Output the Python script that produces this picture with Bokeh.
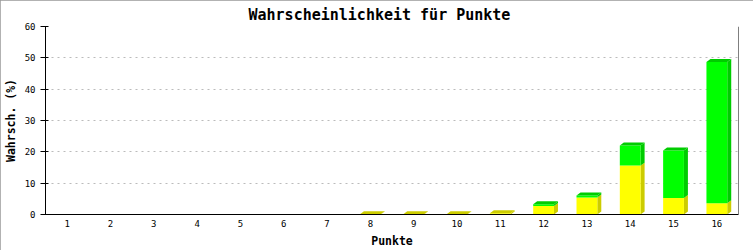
from bokeh.plotting import figure
from bokeh.models import FixedTicker, Span, InlineStyleSheet
from bokeh.embed import file_html
from bokeh.resources import INLINE

# ---- data ----
titel = "Wahrscheinlichkeit für Punkte"
punkte = [str(i) for i in range(1, 17)]
gelb = [0, 0, 0, 0, 0, 0, 0, 0.1, 0.1, 0.1, 0.4, 2.7, 5.4, 15.6, 5.3, 3.6]
gruen = [0, 0, 0, 0, 0, 0, 0, 0, 0, 0, 0, 0.6, 0.7, 6.4, 15.1, 45.1]
y_ticks = [0, 10, 20, 30, 40, 50, 60]

W, H = 753, 250
L, R, T, B = 43, 15, 25, 36
x0, x1 = 0.5, len(punkte) + 0.5
y0, y1 = 0, 60

p = figure(width=W, height=H, output_backend="svg", toolbar_location=None,
           x_range=(x0, x1), y_range=(y0, y1),
           min_border_left=L, min_border_right=R, min_border_top=T, min_border_bottom=B,
           title=titel)
p.stylesheets = [InlineStyleSheet(css=":host { outline: 1px solid #999999; outline-offset: -1px; }")]
p.outline_line_color = None
p.background_fill_color = "white"
p.border_fill_color = "white"

# title centred on the whole image rather than on the frame
p.title.align = "left"
p.title.offset = 203
p.title.text_font = "DejaVu Sans Mono"
p.title.text_font_style = "bold"
p.title.text_font_size = "15px"
p.title.text_color = "black"
p.title.standoff = 6

# axes
mono = "DejaVu Sans Mono"
p.xaxis.ticker = FixedTicker(ticks=list(range(1, len(punkte) + 1)))
p.xaxis.major_label_overrides = {i + 1: s for i, s in enumerate(punkte)}
p.xaxis.major_tick_line_color = None
p.xaxis.major_tick_in = 0
p.xaxis.major_tick_out = 0
p.xaxis.minor_tick_line_color = None
p.xaxis.major_label_standoff = 5
p.xaxis.axis_label = "Punkte"
p.xaxis.axis_label_standoff = 4

p.yaxis.ticker = FixedTicker(ticks=y_ticks)
p.yaxis.major_tick_in = 3
p.yaxis.major_tick_out = 5
p.yaxis.major_tick_line_color = "black"
p.yaxis.minor_tick_line_color = None
p.yaxis.major_label_standoff = 5
p.yaxis.axis_label = "Wahrsch. (%)"
p.yaxis.axis_label_standoff = 4

for ax in (p.xaxis, p.yaxis):
    ax.axis_line_color = "black"
    ax.axis_line_width = 1
    ax.major_label_text_font = mono
    ax.major_label_text_font_size = "9px"
    ax.major_label_text_color = "black"
    ax.axis_label_text_font = mono
    ax.axis_label_text_font_style = "bold"
    ax.axis_label_text_font_size = "11.5px"
    ax.axis_label_text_color = "black"

p.xgrid.grid_line_color = None
p.ygrid.grid_line_color = "#bbbbbb"
p.ygrid.grid_line_dash = "2 4"

p.add_layout(Span(location=x1, dimension="height", line_color="black", line_width=1))

# ---- 3D stacked bars ----
frame_w = W - L - R
frame_h = H - T - B
dx = 4 * (x1 - x0) / frame_w   # depth offset, 4 px
dy = 3 * (y1 - y0) / frame_h   # depth offset, 3 px
bw = 0.48

xs = list(range(1, len(punkte) + 1))
segments = [(gelb, [0] * len(gelb), "#ffff00", "#cccc00"),
            (gruen, gelb, "#00ff00", "#00cc00")]

side_xs, side_ys, side_c = [], [], []
fx, fb, ft, fc = [], [], [], []
for vals, bases, front, dark in segments:
    for x, v, b in zip(xs, vals, bases):
        if v <= 0:
            continue
        bot, top = b, b + v
        xr = x + bw / 2
        side_xs.append([xr, xr + dx, xr + dx, xr])
        side_ys.append([bot, bot + dy, top + dy, top])
        side_c.append(dark)
        fx.append(x); fb.append(bot); ft.append(top); fc.append(front)

top_xs, top_ys, top_c = [], [], []
for x, g, gr in zip(xs, gelb, gruen):
    tot = g + gr
    if tot <= 0:
        continue
    xl, xr = x - bw / 2, x + bw / 2
    top_xs.append([xl, xl + dx, xr + dx, xr])
    top_ys.append([tot, tot + dy, tot + dy, tot])
    top_c.append("#00cc00" if gr > 0 else "#cccc00")

p.patches(side_xs, side_ys, fill_color=side_c, line_color=None)
p.vbar(x=fx, width=bw, bottom=fb, top=ft, fill_color=fc, line_color=None)
p.patches(top_xs, top_ys, fill_color=top_c, line_color=None)

open("out.html", "w").write(file_html(p, INLINE))
